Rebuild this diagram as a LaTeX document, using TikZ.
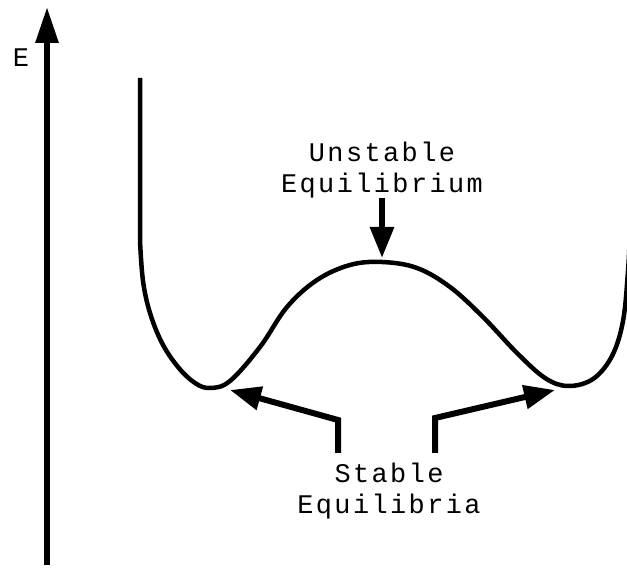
\documentclass[tikz,border=0pt]{standalone}
\usepackage{fontspec}
\newfontfamily\tw[LetterSpace=9]{Liberation Mono}
\usetikzlibrary{arrows.meta}
\tikzset{
  crv/.style={line width=4.5bp, line join=round},
  axs/.style={line width=6bp, -{Triangle[length=36bp, width=22bp]}},
  pt/.style={line width=6bp, line join=miter, -{Triangle[length=31bp, width=23bp]}},
  lbl/.style={font=\tw\fontsize{27}{30.5}\selectfont, align=center, inner sep=0pt}
}
\begin{document}
\begin{tikzpicture}[x=1bp, y=1bp]
\useasboundingbox (0,0) rectangle (627,571);
\coordinate (o) at (47,6);
\coordinate (etop) at (47,564);
\coordinate (umax) at (382,313);
\coordinate (lmin) at (230,181);
\coordinate (rmin) at (555,181);
\draw[axs] (o) -- (etop);
\node[lbl] (e) at (21,513) {E};
\draw[crv] (140,493) -- plot[smooth, tension=0.6] coordinates {(140,330) (143,290) (150,258) (162,228) (178,204) (195,188) (210,183) (230,190) (260,224) (287,264) (317,291) (350,306) (382,309) (417,303) (450,284) (483,254) (517,218) (545,193) (568,185) (593,192) (612,215) (623,250) (628,300) (630,340)} -- (630,498);
\node[lbl, anchor=south] (unst) at (382,373) {Unstable\\Equilibrium};
\draw[pt] (unst.south) -- (umax);
\node[lbl, anchor=north] (stab) at (389,108) {Stable\\Equilibria};
\draw[pt] ([xshift=-51bp, yshift=10bp]stab.north) -- ++(0,33) -- (lmin);
\draw[pt] ([xshift=46bp, yshift=10bp]stab.north) -- ++(0,35) -- (rmin);
\end{tikzpicture}
\end{document}
